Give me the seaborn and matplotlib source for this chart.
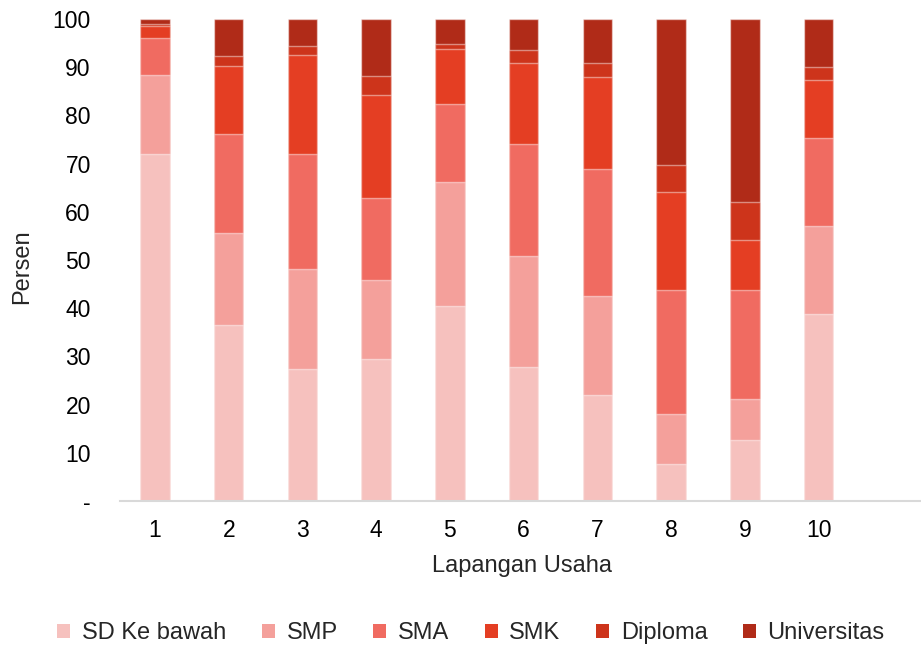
import numpy as np
import pandas as pd
import matplotlib
matplotlib.use("Agg")
import matplotlib.pyplot as plt
import seaborn as sns
from matplotlib.patches import Patch

# -------------------------------
# Data (persen per lapangan usaha)
# -------------------------------

usaha = ["1", "2", "3", "4", "5", "6", "7", "8", "9", "10"]
levels = ["SD Ke bawah", "SMP", "SMA", "SMK", "Diploma", "Universitas"]

sd_kebawah = [72.0, 36.6, 27.4, 29.5, 40.5, 27.9, 22.0, 7.7, 12.7, 38.9]
smp = [16.4, 18.9, 20.8, 16.3, 25.7, 22.9, 20.6, 10.4, 8.5, 18.1]
sma = [7.6, 20.6, 23.7, 17.0, 16.1, 23.2, 26.4, 25.6, 22.6, 18.3]
smk = [2.5, 14.1, 20.6, 21.5, 11.4, 16.8, 19.1, 20.5, 10.4, 12.0]
diploma = [0.5, 2.1, 1.9, 3.8, 1.2, 2.7, 3.0, 5.6, 7.9, 2.7]
universitas = [1.0, 7.7, 5.6, 11.9, 5.1, 6.5, 9.1, 30.2, 37.9, 10.0]

colors = ["#F6C1BE", "#F4A09B", "#F06B61", "#E43E23", "#CD341B", "#B02B18"]

df = pd.DataFrame({
    "usaha": usaha,
    "SD Ke bawah": sd_kebawah,
    "SMP": smp,
    "SMA": sma,
    "SMK": smk,
    "Diploma": diploma,
    "Universitas": universitas,
})

# normalise to 100 and cumulate for stacking
vals = df[levels]
vals = vals.div(vals.sum(axis=1), axis=0) * 100
cum = vals.cumsum(axis=1)

# -------------------------------
# Plot
# -------------------------------

sns.set_style("white")
plt.rcParams["font.family"] = ["Liberation Sans", "DejaVu Sans"]

fig = plt.figure(figsize=(9.21, 6.47), dpi=100)
ax = fig.add_axes([120 / 921, 1 - 501 / 647, (921 - 120) / 921, (501 - 19) / 647])

# draw from top level down so each lower part covers the one above
for lvl, col in zip(levels[::-1], colors[::-1]):
    sns.barplot(x=df["usaha"], y=cum[lvl], color=col, width=0.4,
                edgecolor=(1, 1, 1, 0.45), linewidth=1.0, ax=ax,
                saturation=1, order=usaha)

ax.set_xlim(-0.475, 10.39)
ax.set_ylim(0, 100)
ax.set_yticks(np.arange(0, 101, 10))
ax.set_yticklabels(["-"] + [str(v) for v in range(10, 101, 10)])

ax.set_xlabel("")
ax.set_ylabel("")
ax.tick_params(axis="y", length=0, pad=21, labelsize=16.5, colors="#000000")
ax.tick_params(axis="x", length=0, pad=13, labelsize=16.5, colors="#000000")

for s in ["top", "right", "left"]:
    ax.spines[s].set_visible(False)
ax.spines["bottom"].set_color("#d9d9d9")
ax.spines["bottom"].set_linewidth(1.5)

fig.text(22 / 921, 1 - 267 / 647, "Persen", rotation=90, ha="center",
         va="center", fontsize=17)
fig.text(522 / 921, 1 - 566 / 647, "Lapangan Usaha", ha="center",
         va="center", fontsize=17)

handles = [Patch(facecolor=c, edgecolor="none") for c in colors]
fig.legend(handles, levels, loc="center", bbox_to_anchor=(471 / 921, 1 - 633 / 647),
           ncol=6, frameon=False, fontsize=17, handlelength=0.55,
           handleheight=0.55, handletextpad=0.5, columnspacing=1.5)

fig.savefig("out.png", dpi=100)
